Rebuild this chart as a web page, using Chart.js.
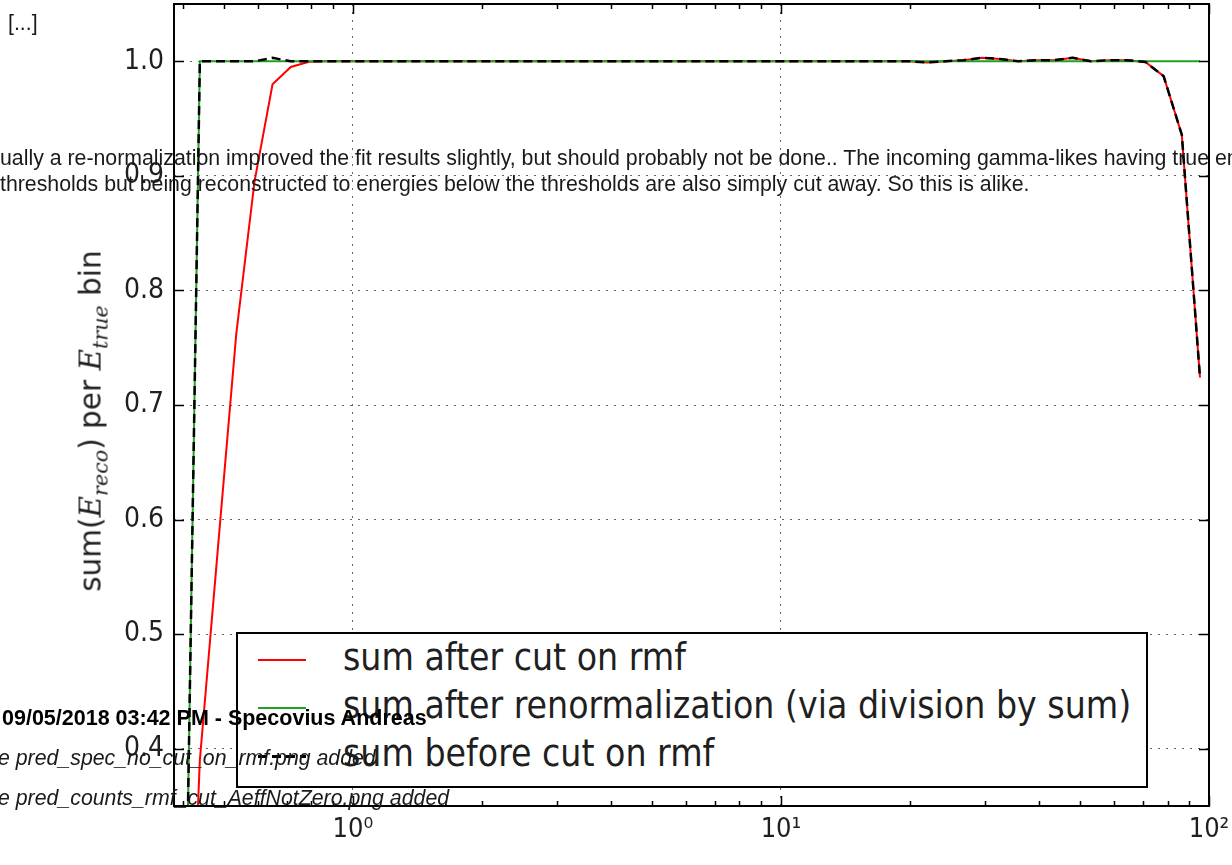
<!DOCTYPE html>
<html>
<head>
<meta charset="utf-8">
<script src="https://cdn.jsdelivr.net/npm/chart.js@4.4.1/dist/chart.umd.min.js"></script>
<style>
  body { margin: 0; width: 1232px; height: 865px; overflow: hidden; position: relative; background: #fff; }
  #wrap { position: absolute; left: 0; top: 0; width: 1232px; height: 865px; }
  .page { position: absolute; font: 21.3px/21px "Liberation Sans", Arial, sans-serif; color: #1a1a1a; white-space: nowrap; }
  #legend { position: absolute; left: 236px; top: 632px; width: 912px; height: 156px; box-sizing: border-box;
            border: 2px solid #000; background: #fff; }
  #legend .smp { position: absolute; left: 20px; width: 48px; height: 2px; }
  #legend .lbl { position: absolute; left: 105px; font: 37px/37px "DejaVu Sans Condensed", "DejaVu Sans", sans-serif; color: #1f1f1f; white-space: nowrap; }
  #ytitle { position: absolute; left: 93px; top: 421px; transform: translate(-50%, -50%) rotate(-90deg);
            font: 29.5px "DejaVu Sans", sans-serif; color: #1f1f1f; white-space: nowrap; }
  #ytitle i { font-family: "DejaVu Serif", serif; }
  #ytitle sub { font-size: 70%; }
</style>
</head>
<body>
<div id="wrap"><canvas id="chart"></canvas></div>
<div id="legend"></div>
<div id="ytitle">sum(<i>E</i><sub><i>reco</i></sub>) per <i>E</i><sub><i>true</i></sub> bin</div>

<div class="page" style="left:8px; top:13px;">[...]</div>
<div class="page" style="left:0px; top:148px;">ually a re-normalization improved the fit results slightly, but should probably not be done.. The incoming gamma-likes having true en</div>
<div class="page" style="left:0px; top:174px;">thresholds but being reconstructed to energies below the thresholds are also simply cut away. So this is alike.</div>
<div class="page" style="left:2px; top:708px; font-weight:bold; font-size:21.5px; color:#000;">09/05/2018 03:42 PM - Specovius Andreas</div>
<div class="page" style="left:-2px; top:748px; font-style:italic;">e pred_spec_no_cut_on_rmf.png added</div>
<div class="page" style="left:-2px; top:788px; font-style:italic;">e pred_counts_rmf_cut_AeffNotZero.png added</div>

<script>
// energie bins (TeV), log spaced
const energy = [0.398, 0.439, 0.484, 0.534, 0.589, 0.649, 0.716, 0.790, 0.871, 0.960,
  1.059, 1.168, 1.288, 1.420, 1.566, 1.727, 1.905, 2.100, 2.316, 2.554,
  2.817, 3.106, 3.425, 3.777, 4.165, 4.593, 5.065, 5.585, 6.159, 6.792,
  7.490, 8.259, 9.108, 10.04, 11.08, 12.22, 13.47, 14.85, 16.38, 18.06,
  19.92, 21.97, 24.23, 26.72, 29.46, 32.49, 35.83, 39.51, 43.57, 48.04,
  52.98, 58.42, 64.42, 71.04, 78.34, 86.39, 95.27];

const sumAfterCut = [0.0, 0.39, 0.576, 0.762, 0.895, 0.980, 0.995, 0.9995, 1.0, 1.0,
  1.0, 1.0, 1.0, 1.0, 1.0, 1.0, 1.0, 1.0, 1.0, 1.0,
  1.0, 1.0, 1.0, 1.0, 1.0, 1.0, 1.0, 1.0, 1.0, 1.0,
  1.0, 1.0, 1.0, 1.0, 1.0, 1.0, 1.0, 1.0, 1.0, 1.0,
  1.0, 0.999, 1.0, 1.001, 1.003, 1.002, 1.0, 1.001, 1.001, 1.003,
  1.0, 1.001, 1.001, 0.9994, 0.987, 0.936, 0.724];

const sumRenorm = [0.0, 1.0, 1.0, 1.0, 1.0, 1.0, 1.0, 1.0, 1.0, 1.0,
  1.0, 1.0, 1.0, 1.0, 1.0, 1.0, 1.0, 1.0, 1.0, 1.0,
  1.0, 1.0, 1.0, 1.0, 1.0, 1.0, 1.0, 1.0, 1.0, 1.0,
  1.0, 1.0, 1.0, 1.0, 1.0, 1.0, 1.0, 1.0, 1.0, 1.0,
  1.0, 1.0, 1.0, 1.0, 1.0, 1.0, 1.0, 1.0, 1.0, 1.0,
  1.0, 1.0, 1.0, 1.0, 1.0, 1.0, 1.0];

const sumBeforeCut = [0.0, 1.0, 1.0, 1.0, 1.0, 1.003, 1.0, 1.0, 1.0, 1.0,
  1.0, 1.0, 1.0, 1.0, 1.0, 1.0, 1.0, 1.0, 1.0, 1.0,
  1.0, 1.0, 1.0, 1.0, 1.0, 1.0, 1.0, 1.0, 1.0, 1.0,
  1.0, 1.0, 1.0, 1.0, 1.0, 1.0, 1.0, 1.0, 1.0, 1.0,
  1.0, 0.999, 1.0, 1.001, 1.003, 1.002, 1.0, 1.001, 1.001, 1.003,
  1.0, 1.001, 1.001, 0.9994, 0.987, 0.936, 0.724];

const seriesNames = ['sum after cut on rmf', 'sum after renormalization (via division by sum)', 'sum before cut on rmf'];
const yTicks = [0.4, 0.5, 0.6, 0.7, 0.8, 0.9, 1.0];
const xMajor = [1, 10, 100];
const xTickLabels = ['10\u2070', '10\u00B9', '10\u00B2'];
const xMinor = [0.4, 0.5, 0.6, 0.7, 0.8, 0.9, 2, 3, 4, 5, 6, 7, 8, 9, 20, 30, 40, 50, 60, 70, 80, 90];

const tickFont = { family: "'DejaVu Sans Condensed', 'DejaVu Sans', sans-serif", size: 28 };

function pts(arr) {
  return energy.map((e, i) => ({ x: e, y: arr[i] }));
}

// marco + ticks hacia adentro (estilo matplotlib)
const marco = {
  id: 'marco',
  afterDatasetsDraw(chart) {
    const { ctx, chartArea: a, scales: { x, y } } = chart;
    ctx.save();
    ctx.strokeStyle = '#000';
    ctx.lineWidth = 1.5;
    ctx.beginPath();
    yTicks.forEach(v => {
      const py = Math.round(y.getPixelForValue(v)) + 0.5;
      ctx.moveTo(a.left, py); ctx.lineTo(a.left + 10, py);
      ctx.moveTo(a.right, py); ctx.lineTo(a.right - 10, py);
    });
    xMajor.forEach(v => {
      const px = Math.round(x.getPixelForValue(v)) + 0.5;
      ctx.moveTo(px, a.bottom); ctx.lineTo(px, a.bottom - 10);
      ctx.moveTo(px, a.top); ctx.lineTo(px, a.top + 10);
    });
    xMinor.forEach(v => {
      const px = Math.round(x.getPixelForValue(v)) + 0.5;
      ctx.moveTo(px, a.bottom); ctx.lineTo(px, a.bottom - 5);
      ctx.moveTo(px, a.top); ctx.lineTo(px, a.top + 5);
    });
    ctx.stroke();
    ctx.lineWidth = 2;
    ctx.strokeRect(a.left, a.top, a.right - a.left, a.bottom - a.top);
    ctx.restore();
  }
};

const chart = new Chart(document.getElementById('chart'), {
  type: 'line',
  data: {
    datasets: [{
      label: seriesNames[0],
      data: pts(sumAfterCut),
      borderColor: '#ff0000',
      borderWidth: 2,
      pointRadius: 0,
      tension: 0,
      order: 3
    }, {
      label: seriesNames[1],
      data: pts(sumRenorm),
      borderColor: '#22a022',
      borderWidth: 2,
      pointRadius: 0,
      tension: 0,
      order: 2
    }, {
      label: seriesNames[2],
      data: pts(sumBeforeCut),
      borderColor: '#000000',
      borderWidth: 2.5,
      borderDash: [9, 5],
      pointRadius: 0,
      tension: 0,
      order: 1
    }]
  },
  options: {
    responsive: true,
    maintainAspectRatio: false,
    animation: false,
    layout: { padding: { left: 0, right: 23, top: 4, bottom: 0 } },
    plugins: { legend: { display: false }, tooltip: { enabled: false } },
    scales: {
      x: {
        type: 'logarithmic',
        min: 0.382,
        max: 100,
        afterBuildTicks: s => { s.ticks = xMajor.map(v => ({ value: v })); },
        afterFit: s => { s.height = 59; s.paddingLeft = 0; s.paddingRight = 0; },
        grid: { color: '#666', lineWidth: 1, drawTicks: false },
        border: { display: false, dash: [2, 6] },
        ticks: {
          autoSkip: false, maxRotation: 0, padding: 8,
          color: '#1f1f1f', font: { ...tickFont, size: 27 },
          callback: v => xTickLabels[xMajor.indexOf(v)] ?? ''
        }
      },
      y: {
        min: 0.35,
        max: 1.05,
        afterBuildTicks: s => { s.ticks = yTicks.map(v => ({ value: v })); },
        afterFit: s => { s.width = 174; s.paddingTop = 0; s.paddingBottom = 0; },
        grid: { color: '#666', lineWidth: 1, drawTicks: false },
        border: { display: false, dash: [2, 6] },
        ticks: {
          padding: 10,
          color: '#1f1f1f', font: tickFont,
          callback: v => v.toFixed(1)
        }
      }
    }
  },
  plugins: [marco]
});

// leyenda hecha a mano a partir de los datasets
const leg = document.getElementById('legend');
const filas = [660, 708, 756];
chart.data.datasets.forEach((ds, i) => {
  const smp = document.createElement('div');
  smp.className = 'smp';
  smp.style.top = (filas[i] - 634 - 1) + 'px';
  if (ds.borderDash) {
    smp.style.background = 'repeating-linear-gradient(90deg, ' + ds.borderColor + ' 0 9px, transparent 9px 14px)';
    smp.style.height = '2.5px';
  } else {
    smp.style.background = ds.borderColor;
  }
  leg.appendChild(smp);
  const lbl = document.createElement('div');
  lbl.className = 'lbl';
  lbl.style.top = (filas[i] + 10.5 - 31.3 - 634) + 'px';
  lbl.textContent = ds.label;
  leg.appendChild(lbl);
});
</script>
</body>
</html>
